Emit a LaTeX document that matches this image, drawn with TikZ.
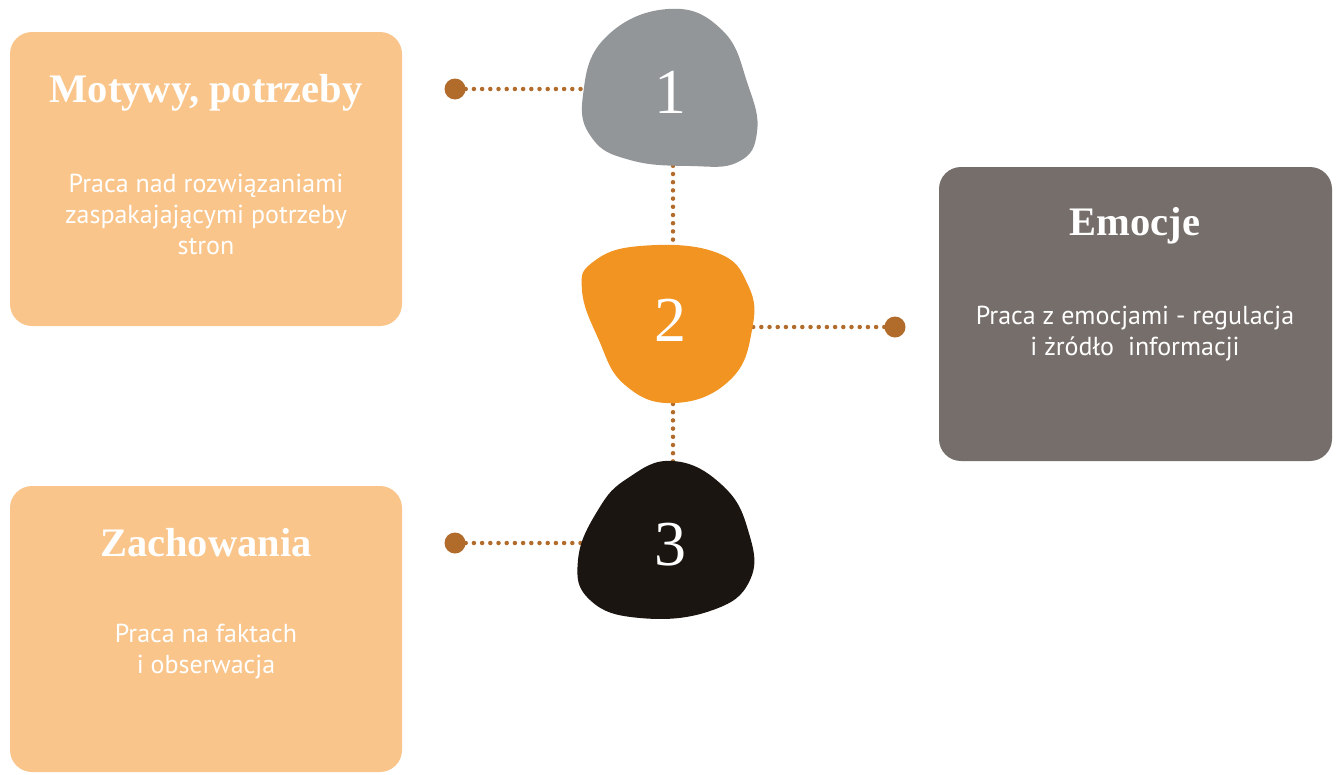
\documentclass[tikz,border=0pt]{standalone}
\usepackage{fontspec}
\setmainfont{Liberation Serif}
\newfontfamily\bodyfont{PT Sans}
\definecolor{boxorange}{HTML}{F9C58B}
\definecolor{boxgray}{HTML}{766E6A}
\definecolor{blobgray}{HTML}{939698}
\definecolor{bloborange}{HTML}{F29422}
\definecolor{blobblack}{HTML}{1B1512}
\definecolor{dotbrown}{HTML}{B16B2B}
\tikzset{
  card/.style={fill=#1, draw=none, rounded corners=22pt},
  ttl/.style={text=white, font=\fontsize{40.5}{44}\selectfont\bfseries},
  body/.style={text=white, align=center, font=\bodyfont\fontsize{26}{31}\selectfont},
  num/.style={text=white, font=\fontsize{64}{70}\selectfont, inner sep=0pt},
  enddot/.style={circle, fill=dotbrown, minimum size=21pt, inner sep=0pt},
  dotline/.style={dotbrown, line width=4.5pt, line cap=round, dash pattern=on 0pt off 8.2pt},
}
\begin{document}
\begin{tikzpicture}[x=1pt,y=-1pt]
\useasboundingbox (0,0) rectangle (1338,774);
% cards
\fill[card=boxorange] (10,32) rectangle (402,326);
\fill[card=boxgray] (939,167) rectangle (1332,461);
\fill[card=boxorange] (10,486) rectangle (402,772);
\node[ttl] (t1) at (206,93) {Motywy, potrzeby};
\node[body] (b1) at (206,214) {Praca nad rozwiązaniami\\zaspakajającymi potrzeby\\stron};
\node[ttl] (t2) at (1135,226) {Emocje};
\node[body] (b2) at (1135,334) {Praca z emocjami - regulacja\\i żródło\ \ informacji};
\node[ttl] (t3) at (206,543) {Zachowania};
\node[body] (b3) at (206,652) {Praca na faktach\\i obserwacja};
% end dots
\node[enddot] (d1) at (455,89) {};
\node[enddot] (d2) at (895,327) {};
\node[enddot] (d3) at (455,543) {};
% number anchors
\coordinate (c1) at (673,92);
\coordinate (c2) at (673,322);
\coordinate (c3) at (673,545);
% connectors
\draw[dotline] (d1.east) -- (d1.east -| c1);
\draw[dotline] (d3.east) -- (d3.east -| c3);
\draw[dotline] (d2.west) -- (d2.west -| c2);
\draw[dotline] (c1) -- (c2);
\draw[dotline] (c2) -- (c3);
% blobs
\fill[blobgray] plot[smooth cycle, tension=0.75] coordinates {
  (668,9) (722,30) (748,85) (757,132) (738,162) (690,166) (630,160) (592,138) (583,95) (605,38)};
\fill[bloborange] plot[smooth cycle, tension=0.75] coordinates {
  (593,262) (640,246) (715,252) (748,285) (752,330) (730,380) (675,403) (625,385) (598,338) (582,290)};
\fill[blobblack] plot[smooth cycle, tension=0.75] coordinates {
  (673,461) (722,485) (748,530) (750,580) (710,611) (640,618) (590,600) (578,560) (598,510) (628,478)};
\node[num] (n1) at (670,92) {1};
\node[num] (n2) at (670,320) {2};
\node[num] (n3) at (670,545) {3};
\end{tikzpicture}
\end{document}
